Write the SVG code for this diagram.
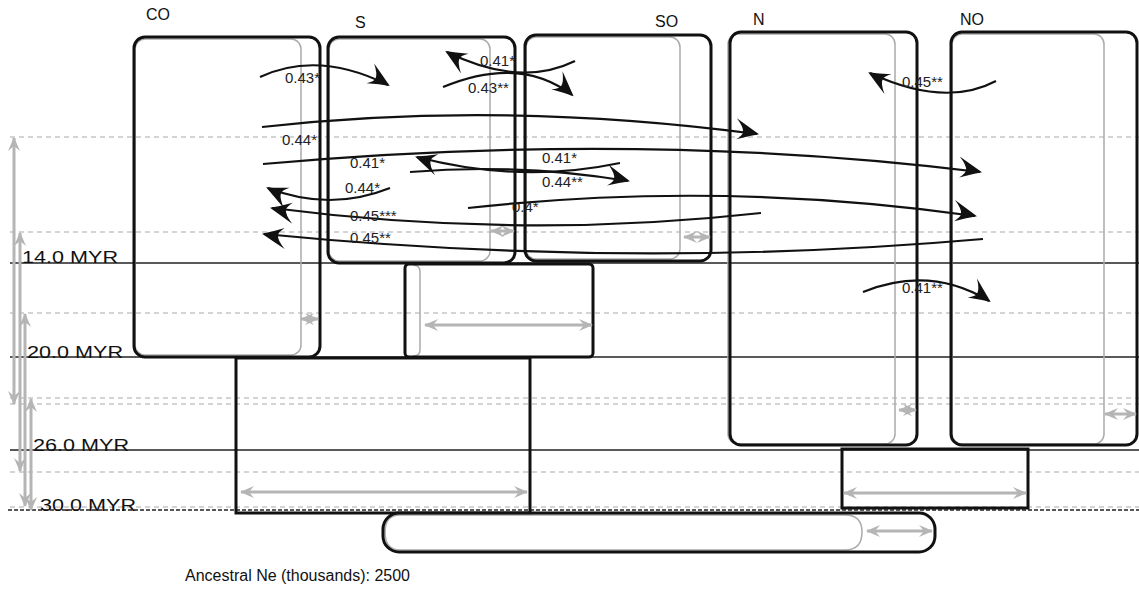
<svg xmlns="http://www.w3.org/2000/svg" width="1139" height="589" viewBox="0 0 1139 589">
<style>
.dash{stroke:#aaa;stroke-width:1.2;stroke-dasharray:5,4;fill:none}
.solid{stroke:#222;stroke-width:1.3;fill:none}
.ne{fill:none;stroke:#aaa;stroke-width:1.5}
.box{fill:none;stroke:#111;stroke-width:3}
.mig{fill:none;stroke:#111;stroke-width:2.2;marker-end:url(#ah)}
.garr{stroke:#b5b5b5;stroke-width:3;fill:none;marker-start:url(#gh);marker-end:url(#gh)}
.t{font-family:"Liberation Sans",Arial,sans-serif;font-size:15px;fill:#222}
.p{font-family:"Liberation Sans",Arial,sans-serif;font-size:16px;fill:#111}
.myr{font-family:"Liberation Sans",Arial,sans-serif;font-size:17px;fill:#111}
</style>
<defs>
<marker id="ah" markerUnits="userSpaceOnUse" viewBox="-28 -16 32 32" markerWidth="32" markerHeight="32" refX="0" refY="0" orient="auto">
<path d="M2,0 Q-9,-6 -22,-13 Q-14,-5 -14,0 Q-14,3 -20,8 Q-8,3 2,0 Z" fill="#111"/>
</marker>
<marker id="gh" markerUnits="userSpaceOnUse" viewBox="-16 -8 18 16" markerWidth="18" markerHeight="16" refX="0" refY="0" orient="auto-start-reverse">
<path d="M1,0 L-13,-6 L-8,0 L-13,6 Z" fill="#b5b5b5"/>
</marker>
</defs>
<rect width="1139" height="589" fill="#fff"/>
<g id="timescale">
<line class="dash" x1="10" y1="137" x2="1139" y2="137"/>
<line class="dash" x1="10" y1="232" x2="1139" y2="232"/>
<line class="dash" x1="10" y1="313" x2="1139" y2="313"/>
<line class="dash" x1="10" y1="398" x2="1139" y2="398"/>
<line class="dash" x1="10" y1="404" x2="1139" y2="404"/>
<line class="dash" x1="10" y1="472" x2="1139" y2="472"/>
<line class="dash" x1="10" y1="507" x2="1139" y2="507"/>
<line class="solid" x1="10" y1="263" x2="1139" y2="263"/>
<line class="solid" x1="10" y1="357" x2="1139" y2="357"/>
<line class="solid" x1="10" y1="450" x2="1139" y2="450"/>
<line x1="8" y1="510" x2="1139" y2="510" stroke="#222" stroke-width="1.3" stroke-dasharray="4,2"/>
<text class="myr" x="22" y="263" textLength="96" lengthAdjust="spacingAndGlyphs">14.0 MYR</text>
<text class="myr" x="27" y="358" textLength="96" lengthAdjust="spacingAndGlyphs">20.0 MYR</text>
<text class="myr" x="33" y="451" textLength="96" lengthAdjust="spacingAndGlyphs">26.0 MYR</text>
<text class="myr" x="40" y="511" textLength="96" lengthAdjust="spacingAndGlyphs">30.0 MYR</text>
<line class="garr" x1="14" y1="404" x2="14" y2="138"/>
<line class="garr" x1="20" y1="471" x2="20" y2="233"/>
<line class="garr" x1="25" y1="506" x2="25" y2="314"/>
<line class="garr" x1="31" y1="510" x2="31" y2="399"/>
</g>
<g id="CO">
<rect class="ne" x="135" y="39" width="166" height="316" rx="10"/>
<rect class="box" x="134" y="37" width="186" height="320" rx="11"/>
<line class="garr" x1="301" y1="319" x2="318" y2="319"/>
<text class="p" x="146" y="20">CO</text>
</g>
<g id="S">
<rect class="ne" x="329" y="39" width="161" height="222" rx="10"/>
<rect class="box" x="328" y="37" width="187" height="226" rx="11"/>
<line class="garr" x1="491" y1="231" x2="514" y2="231"/>
<text class="p" x="355" y="28">S</text>
</g>
<g id="SO">
<rect class="ne" x="526" y="37" width="154" height="222" rx="10"/>
<rect class="box" x="525" y="35" width="186" height="226" rx="11"/>
<line class="garr" x1="684" y1="237" x2="710" y2="237"/>
<text class="p" x="655" y="27">SO</text>
</g>
<g id="N">
<rect class="ne" x="728" y="34" width="167" height="410" rx="10"/>
<rect class="box" x="730" y="32" width="187" height="413" rx="11"/>
<line class="garr" x1="899" y1="410" x2="916" y2="410"/>
<text class="p" x="753" y="25">N</text>
</g>
<g id="NO">
<rect class="ne" x="952" y="34" width="152" height="410" rx="10"/>
<rect class="box" x="951" y="32" width="186" height="413" rx="11"/>
<line class="garr" x1="1105" y1="414" x2="1136" y2="414"/>
<text class="p" x="960" y="25">NO</text>
</g>
<g id="S-SO">
<path class="ne" d="M413,265 Q420,265 420,272 L420,350 Q420,356 413,356"/>
<rect class="box" x="405" y="264" width="188" height="93" rx="4"/>
<line class="garr" x1="425" y1="325" x2="592" y2="325"/>
</g>
<g id="CO-S-SO">
<rect class="box" x="236" y="358" width="294" height="155"/>
<line class="garr" x1="241" y1="492" x2="527" y2="492"/>
</g>
<g id="N-NO">
<rect class="box" x="842" y="449" width="186" height="59"/>
<line class="garr" x1="844" y1="493" x2="1026" y2="493"/>
</g>
<g id="root">
<path class="ne" d="M400,515 L845,515 Q862,515 862,532 Q862,550 845,550 L400,550 Q385,550 385,532 Q385,515 400,515 Z"/>
<rect class="box" x="383" y="513" width="552" height="39" rx="16"/>
<line class="garr" x1="867" y1="531" x2="932" y2="531"/>
<text class="p" x="185" y="581">Ancestral Ne (thousands): 2500</text>
</g>
<g id="connectors">
<path class="mig" d="M260,77 Q318,50 388,85"/>
<path class="mig" d="M575,61 Q520,88 447,52"/>
<path class="mig" d="M443,87 Q520,55 572,95"/>
<path class="mig" d="M996,81 Q945,108 870,73"/>
<path class="mig" d="M262,127 Q500,100 757,134"/>
<path class="mig" d="M263,164 Q640,130 980,172"/>
<path class="mig" d="M410,172 Q520,163 628,181"/>
<path class="mig" d="M620,163 Q520,184 417,157"/>
<path class="mig" d="M390,188 Q330,212 268,188"/>
<path class="mig" d="M468,208 Q720,180 975,216"/>
<path class="mig" d="M761,213 Q520,240 272,208"/>
<path class="mig" d="M983,239 Q630,270 264,234"/>
<path class="mig" d="M863,292 Q930,265 989,301"/>
</g>
<g id="labels">
<text class="t" x="285" y="83">0.43*</text>
<text class="t" x="480" y="66">0.41*</text>
<text class="t" x="468" y="93">0.43**</text>
<text class="t" x="902" y="87">0.45**</text>
<text class="t" x="282" y="145">0.44*</text>
<text class="t" x="350" y="168">0.41*</text>
<text class="t" x="542" y="163">0.41*</text>
<text class="t" x="542" y="187">0.44**</text>
<text class="t" x="345" y="193">0.44*</text>
<text class="t" x="512" y="212">0.4*</text>
<text class="t" x="350" y="221">0.45***</text>
<text class="t" x="350" y="243">0.45**</text>
<text class="t" x="902" y="293">0.41**</text>
</g>
</svg>
